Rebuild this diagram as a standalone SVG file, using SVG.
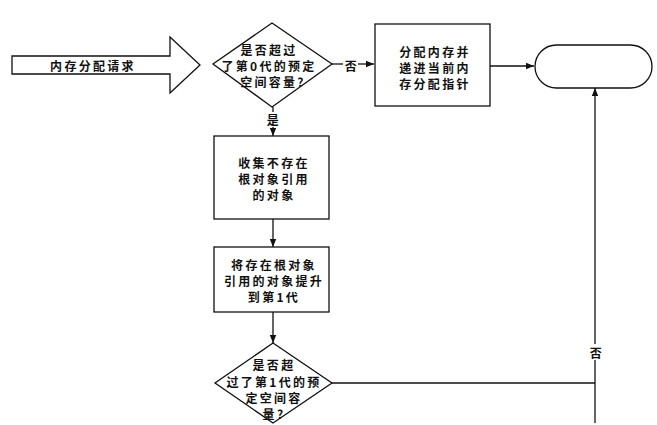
<svg xmlns="http://www.w3.org/2000/svg" width="657" height="425" viewBox="0 0 657 425">
<style>
.s{fill:#fff;stroke:#111;stroke-width:1.3}
.l{fill:none;stroke:#111;stroke-width:1.3}
.t{font-family:"Noto Sans CJK SC","Noto Sans",sans-serif;font-size:12px;font-weight:bold;fill:#111;text-anchor:middle;dominant-baseline:central;letter-spacing:2.3px}
</style>
<defs>
<marker id="a" viewBox="0 0 10 10" refX="10" refY="5" markerWidth="8" markerHeight="8" markerUnits="userSpaceOnUse" orient="auto">
<path d="M0,1 L10,5 L0,9 Z" fill="#111"/>
</marker>
</defs>
<rect width="657" height="425" fill="#fff"/>
<g id="connectors">
<line class="l" x1="332" y1="64" x2="343" y2="64"/>
<line class="l" x1="358" y1="64" x2="374" y2="64" marker-end="url(#a)"/>
<line class="l" x1="490" y1="66" x2="534" y2="66" marker-end="url(#a)"/>
<line class="l" x1="273" y1="107" x2="273" y2="112"/>
<line class="l" x1="273" y1="127" x2="273" y2="136" marker-end="url(#a)"/>
<line class="l" x1="273" y1="219" x2="273" y2="247" marker-end="url(#a)"/>
<line class="l" x1="273" y1="312" x2="273" y2="343" marker-end="url(#a)"/>
<line class="l" x1="332" y1="383" x2="595" y2="383"/>
<line class="l" x1="595" y1="423" x2="595" y2="360"/>
<line class="l" x1="595" y1="344" x2="595" y2="88" marker-end="url(#a)"/>
<text class="t" x="352" y="65">否</text>
<text class="t" x="274" y="119">是</text>
<text class="t" x="597" y="352">否</text>
</g>
<g id="input">
<path class="s" d="M12,56 L170,56 L170,37 L200,65 L170,93 L170,74 L12,74 Z"/>
<text class="t" x="93" y="65">内存分配请求</text>
</g>
<g id="decision1">
<path class="s" d="M272,23 L332,64 L272,107 L213,64 Z"/>
<text class="t" x="269" y="49">是否超过</text>
<text class="t" x="269" y="65">了第0代的预定</text>
<text class="t" x="273" y="81">空间容量?</text>
</g>
<g id="allocate">
<rect class="s" x="375" y="24" width="115" height="82"/>
<text class="t" x="435" y="51">分配内存并</text>
<text class="t" x="435" y="67">递进当前内</text>
<text class="t" x="435" y="83">存分配指针</text>
</g>
<g id="end">
<rect class="s" x="535" y="45" width="117" height="43" rx="21.5" ry="21.5"/>
</g>
<g id="collect">
<rect class="s" x="214" y="136" width="115" height="83"/>
<text class="t" x="274" y="162">收集不存在</text>
<text class="t" x="274" y="178">根对象引用</text>
<text class="t" x="274" y="194">的对象</text>
</g>
<g id="promote">
<rect class="s" x="214" y="247" width="115" height="65"/>
<text class="t" x="274" y="264">将存在根对象</text>
<text class="t" x="274" y="280">引用的对象提升</text>
<text class="t" x="274" y="296">到第1代</text>
</g>
<g id="decision2">
<path class="s" d="M273,343 L332,383 L273,423 L215,383 Z"/>
<text class="t" x="274" y="364">是否超</text>
<text class="t" x="274" y="381">过了第1代的预</text>
<text class="t" x="274" y="397">定空间容</text>
<text class="t" x="274" y="413">量?</text>
</g>
</svg>
